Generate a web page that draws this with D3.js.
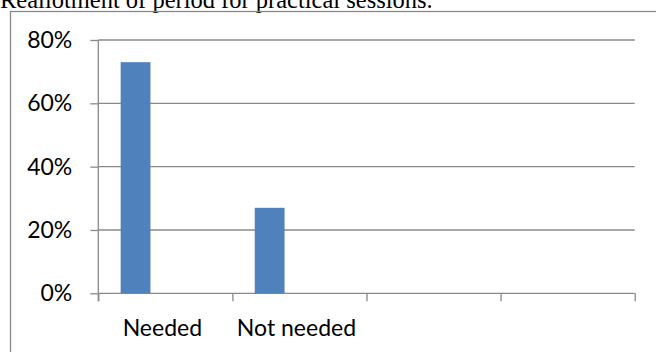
<!DOCTYPE html>
<html>
<head>
<meta charset="utf-8">
<script src="https://cdn.jsdelivr.net/npm/d3@7"></script>
<style>
  html, body { margin: 0; padding: 0; background: #fff; }
  svg { display: block; }
  .lbl { font-family: Lato, "Noto Sans", sans-serif; font-size: 23px; fill: #000; }
</style>
</head>
<body>
<svg id="chart" width="656" height="352"></svg>
<script>
// Chart content
const title = "Reallotment of period for practical sessions.";
const categories = ["Needed", "Not needed", "", ""];
const values = [0.73, 0.27];
const yTicks = [0, 0.2, 0.4, 0.6, 0.8];
const seriesSlots = ["Series1", "Series2", "Series3"];

const W = 656, H = 352;
const plot = { left: 98.3, right: 634.7, top: 40, bottom: 293.3 };
const axisColor = "#898989";
const barColor = "#4F81BD";

const svg = d3.select("#chart");

// Heading above the chart frame
svg.append("text")
  .attr("x", 0).attr("y", 7.5)
  .attr("font-family", "'Liberation Serif', 'Times New Roman', serif")
  .attr("font-size", 24.5)
  .attr("fill", "#000")
  .text(title);

// Chart frame
svg.append("rect")
  .attr("x", 10.5).attr("y", 11.5)
  .attr("width", 660).attr("height", 345)
  .attr("fill", "none")
  .attr("stroke", axisColor)
  .attr("stroke-width", 1.3);

const y = d3.scaleLinear().domain([0, 0.8]).range([plot.bottom, plot.top]);
const x = d3.scaleBand().domain(d3.range(categories.length))
  .range([plot.left, plot.right]).paddingInner(0).paddingOuter(0);
// Slot within each category for each series (gap width 150%)
const slot = d3.scaleBand().domain(seriesSlots).range([0, x.bandwidth()])
  .paddingInner(0).paddingOuter(0.75);
// Boundary scale for category tick marks
const xEdge = d3.scaleLinear().domain([0, categories.length]).range([plot.left, plot.right]);

// Horizontal gridlines
svg.append("g")
  .selectAll("line")
  .data(yTicks)
  .join("line")
  .attr("x1", plot.left).attr("x2", plot.right)
  .attr("y1", d => y(d)).attr("y2", d => y(d))
  .attr("stroke", axisColor).attr("stroke-width", 1.3);

// Bars
svg.append("g")
  .selectAll("rect")
  .data(values)
  .join("rect")
  .attr("x", (d, i) => x(i) + slot(seriesSlots[0]))
  .attr("width", slot.bandwidth())
  .attr("y", d => y(d))
  .attr("height", d => y(0) - y(d))
  .attr("fill", barColor);

// Value axis
const yAxis = svg.append("g")
  .attr("transform", `translate(${plot.left},0)`)
  .call(d3.axisLeft(y).tickValues(yTicks).tickSize(8).tickPadding(18)
    .tickFormat(d3.format(".0%")));
yAxis.select(".domain").remove();
yAxis.selectAll(".tick line").attr("stroke", axisColor).attr("stroke-width", 1.3);
yAxis.selectAll(".tick text").attr("class", "lbl").attr("font-family", null).attr("font-size", null);
svg.append("line")
  .attr("x1", plot.left).attr("x2", plot.left)
  .attr("y1", plot.top).attr("y2", plot.bottom + 8)
  .attr("stroke", axisColor).attr("stroke-width", 1.3);

// Category axis: ticks at category boundaries
const xAxis = svg.append("g")
  .attr("transform", `translate(0,${plot.bottom})`)
  .call(d3.axisBottom(xEdge).tickValues(d3.range(categories.length + 1))
    .tickSize(8).tickFormat(""));
xAxis.select(".domain").remove();
xAxis.selectAll(".tick line").attr("stroke", axisColor).attr("stroke-width", 1.3);

// Category labels
svg.append("g")
  .selectAll("text")
  .data(categories)
  .join("text")
  .attr("class", "lbl")
  .attr("x", (d, i) => x(i) + x.bandwidth() / 2 - 3)
  .attr("y", 336)
  .attr("text-anchor", "middle")
  .text(d => d);
</script>
</body>
</html>
